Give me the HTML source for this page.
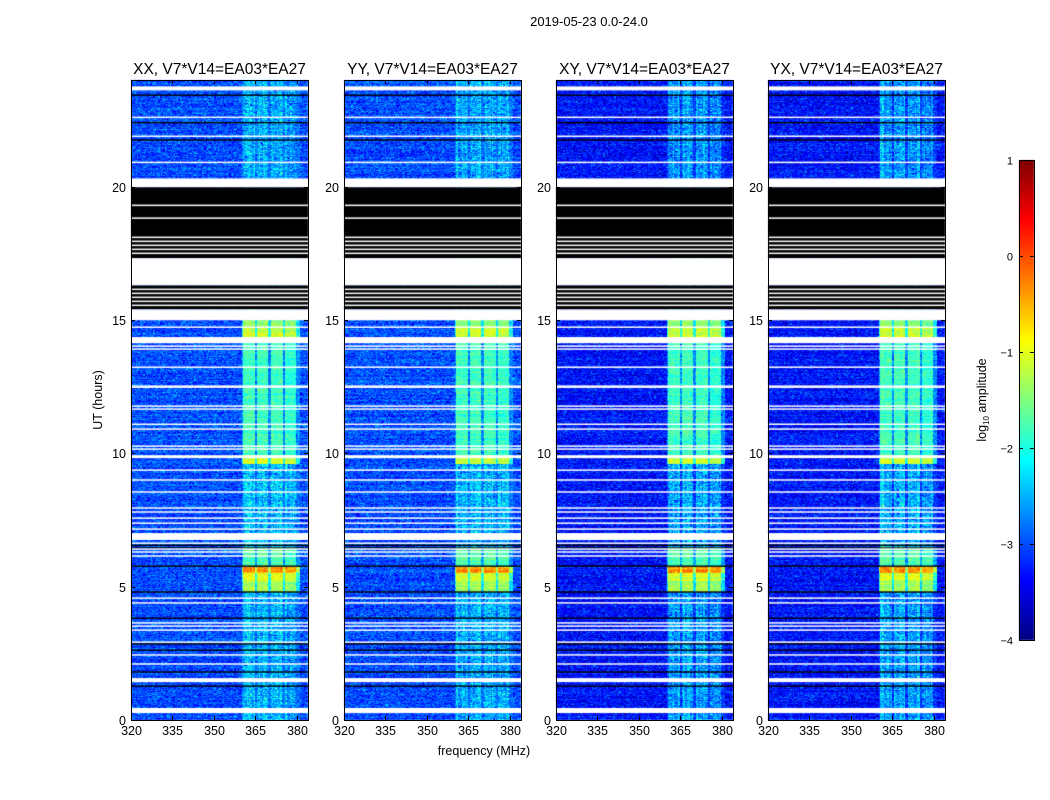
<!DOCTYPE html>
<html><head><meta charset="utf-8">
<style>
html,body{margin:0;padding:0;background:#fff;}
#root{position:relative;width:1050px;height:800px;font-family:"Liberation Sans",sans-serif;color:#000;overflow:hidden;}
canvas{position:absolute;left:0;top:0;}
svg{position:absolute;left:0;top:0;}
</style></head>
<body>
<div id="root">
<canvas id="cv" width="1050" height="800"></canvas>
<svg id="ov" width="1050" height="800"></svg>
</div>
<script>
// ---- data ----
const panelTitles = ["XX, V7*V14=EA03*EA27","YY, V7*V14=EA03*EA27","XY, V7*V14=EA03*EA27","YX, V7*V14=EA03*EA27"];
const bgLevels = [-3.0,-3.0,-3.3,-3.3];
const xTicks = [320,335,350,365,380];
const yTicks = [0,5,10,15,20];
const cbTicks = [1,0,-1,-2,-3,-4];
// RFI sub-bands (MHz)
const subBands = [[360.4,364.7],[365.4,369.4],[370.5,374.8],[375.6,379.6]];
// band level events over time (hours start, end, log10 amp)
const bandEvents = [[0,4.8,-2.45],[4.8,5.2,-1.3],[5.2,5.5,-1.0],[5.5,5.75,-0.35],[5.75,6.5,-1.7],[6.5,9.6,-2.4],[9.6,9.95,-1.1],[9.95,14.3,-1.8],[14.3,14.75,-1.1],[14.75,15.0,-1.4],[15,24,-2.5]];
// flagged blocks (hours)
const blackBlocks = [[17.32,19.98],[15.40,16.30]];
const whiteBlocks = [[23.61,23.76],[19.98,20.31],[16.30,17.32],[14.99,15.40],[9.82,9.93],[6.75,7.01],[1.42,1.57],[0.26,0.45],[14.13,14.36]];
const whiteLines = [22.60,21.89,20.91,19.30,18.82,18.10,17.95,17.80,17.65,17.50,16.15,16.00,15.85,15.70,15.55,14.73,14.02,13.91,13.23,12.52,12.48,11.77,11.66,11.09,10.91,10.27,10.16,9.37,9.00,8.55,7.95,7.80,7.57,7.38,7.16,6.63,6.41,6.30,6.15,4.57,4.39,3.64,3.52,3.37,2.92,2.44,2.10];
const blackLines = [23.43,22.40,21.75,5.77,4.80,3.82,2.85,2.62,1.80,1.27,6.55,6.45];

// ---- geometry ----
const panelX = [131,344,556,768];
const PW = 177, PT = 80, PB = 720;
const F0 = 320, F1 = 384, T0 = 0, T1 = 24;
function xs(p,f){return panelX[p] + (f-F0)/(F1-F0)*PW;}
function ys(h){return PB - (h-T0)/(T1-T0)*(PB-PT);}

function jet(v){
  const c = x=>Math.max(0,Math.min(1,x));
  const r=c(1.5-Math.abs(4*v-3)), g=c(1.5-Math.abs(4*v-2)), b=c(1.5-Math.abs(4*v-1));
  return [r*255|0,g*255|0,b*255|0];
}
function hash(a,b,c){let h=(a*374761393+b*668265263+c*2147483647)|0;h=(h^(h>>>13))*1274126177|0;h=h^(h>>>16);return ((h>>>0)%10000)/10000;}
function gn(a,b,c){return (hash(a,b,c)+hash(a+911,b+37,c+5)+hash(a+3,b+7919,c+11)-1.5)/1.5;}
function bandLevel(h){for(const e of bandEvents){if(h>=e[0]&&h<e[1])return e[2];}return -2.5;}
function inBand(f){for(let i=0;i<subBands.length;i++){if(f>=subBands[i][0]&&f<=subBands[i][1])return i;}return -1;}

const cv=document.getElementById('cv'); const ctx=cv.getContext('2d');
for(let p=0;p<4;p++){
  const W=PW, H=PB-PT; const img=ctx.createImageData(W,H);
  for(let py=0;py<H;py++){
    const h=T1-(py+0.5)/H*(T1-T0); const ri=Math.floor(h/0.035);
    const rowOff=(hash(ri,7,p)-0.5)*0.25;
    for(let px=0;px<W;px++){
      const f=F0+(px+0.5)/W*(F1-F0); const ci=Math.floor((f-F0)/0.45);
      const n=gn(ci,ri,p+1);
      const colOff=(hash(ci,3,p)-0.5)*0.4;
      let lv;
      const b=inBand(f);
      const bl=bandLevel(h);
      if(b>=0){
        const amp = bl<-2? 0.9:0.45;
        lv=bl+n*amp+rowOff+colOff*(bl<-2?1:0.3)-(b==3?0.1:0);
        if(p>=2 && bl<-2) lv-=0.1;
      } else if(f>360 && f<381){
        lv=Math.max(bgLevels[p]+0.2, bl-0.9)+n*0.7;
      } else {
        lv=bgLevels[p]+n*0.75+rowOff;
      }
      const v=Math.max(0,Math.min(1,(lv+4)/5));
      const c=jet(v); const k=(py*W+px)*4;
      img.data[k]=c[0];img.data[k+1]=c[1];img.data[k+2]=c[2];img.data[k+3]=255;
    }
  }
  ctx.putImageData(img,panelX[p],PT);
  const x0=panelX[p];
  ctx.fillStyle='#000';
  for(const b of blackBlocks){ctx.fillRect(x0,ys(b[1]),PW,ys(b[0])-ys(b[1]));}
  for(const l of blackLines){ctx.fillRect(x0,ys(l)-0.7,PW,1.4);}
  ctx.fillStyle='#fff';
  for(const b of whiteBlocks){ctx.fillRect(x0,ys(b[1]),PW,ys(b[0])-ys(b[1]));}
  for(const l of whiteLines){ctx.fillRect(x0,ys(l)-0.75,PW,1.5);}
}
// colorbar
const CBX=1019,CBW=15,CBT=160,CBB=640;
for(let y=CBT;y<CBB;y++){const c=jet(1-(y-CBT)/(CBB-CBT));ctx.fillStyle=`rgb(${c[0]},${c[1]},${c[2]})`;ctx.fillRect(CBX,y,CBW,1);}

// ---- overlay ----
const svg=document.getElementById('ov'); const NS='http://www.w3.org/2000/svg';
function el(tag,attrs,parent){const e=document.createElementNS(NS,tag);for(const k in attrs)e.setAttribute(k,attrs[k]);(parent||svg).appendChild(e);return e;}
function txt(s,attrs){const t=el('text',Object.assign({'font-family':'Liberation Sans, sans-serif'},attrs));t.textContent=s;return t;}

let t=txt("2019-05-23 0.0-24.0",{x:589,y:26,'font-size':13,'text-anchor':'middle'});


for(let p=0;p<4;p++){
  const g=el('g',{});
  
  
  const fr=el('rect',{x:panelX[p]+0.5,y:PT+0.5,width:PW,height:PB-PT,fill:'none',stroke:'#000','stroke-width':1},g);
  
  
  const tt=txt(panelTitles[p],{x:panelX[p]+PW/2,y:74,'font-size':15.5,'text-anchor':'middle'});
  g.appendChild(tt);
  
  
  for(const f of xTicks){
    const x=Math.round(xs(p,f))+0.5;
    el('line',{x1:x,x2:x,y1:PB,y2:PB-4,stroke:'#000'},g);
    el('line',{x1:x,x2:x,y1:PT,y2:PT+4,stroke:'#000'},g);
    const l=txt(String(f),{x:x,y:PB+15,'font-size':12.5,'text-anchor':'middle'});g.appendChild(l);
    
    
  }
  for(const h of yTicks){
    const y=Math.round(ys(h))+0.5;
    el('line',{x1:panelX[p],x2:panelX[p]+4,y1:y,y2:y,stroke:'#000'},g);
    el('line',{x1:panelX[p]+PW,x2:panelX[p]+PW-4,y1:y,y2:y,stroke:'#000'},g);
    const l=txt(String(h),{x:panelX[p]-5,y:y+4.5,'font-size':12.5,'text-anchor':'end'});g.appendChild(l);
    
    
  }
}
t=txt("frequency (MHz)",{x:484,y:755,'font-size':12.5,'text-anchor':'middle'});


t=txt("UT (hours)",{x:102,y:400,'font-size':12.5,'text-anchor':'middle',transform:'rotate(-90 102 400)'});


const cb=el('rect',{x:CBX+0.5,y:CBT+0.5,width:CBW,height:CBB-CBT,fill:'none',stroke:'#000'});


for(const v of cbTicks){
  const y=Math.round(CBT+(1-v)/5*(CBB-CBT))+0.5;
  el('line',{x1:CBX,x2:CBX+4,y1:y,y2:y,stroke:'#000'});
  el('line',{x1:CBX+CBW,x2:CBX+CBW-4,y1:y,y2:y,stroke:'#000'});
  const l=txt(v<0?'\u2212'+(-v):String(v),{x:CBX-6,y:y+4,'font-size':11,'text-anchor':'end'});
  
  
}
t=txt("",{x:986,y:400,'font-size':12.5,'text-anchor':'middle',transform:'rotate(-90 986 400)'});
t.innerHTML='log<tspan font-size="8" dy="3">10</tspan><tspan dy="-3"> amplitude</tspan>';


</script>
</body></html>
